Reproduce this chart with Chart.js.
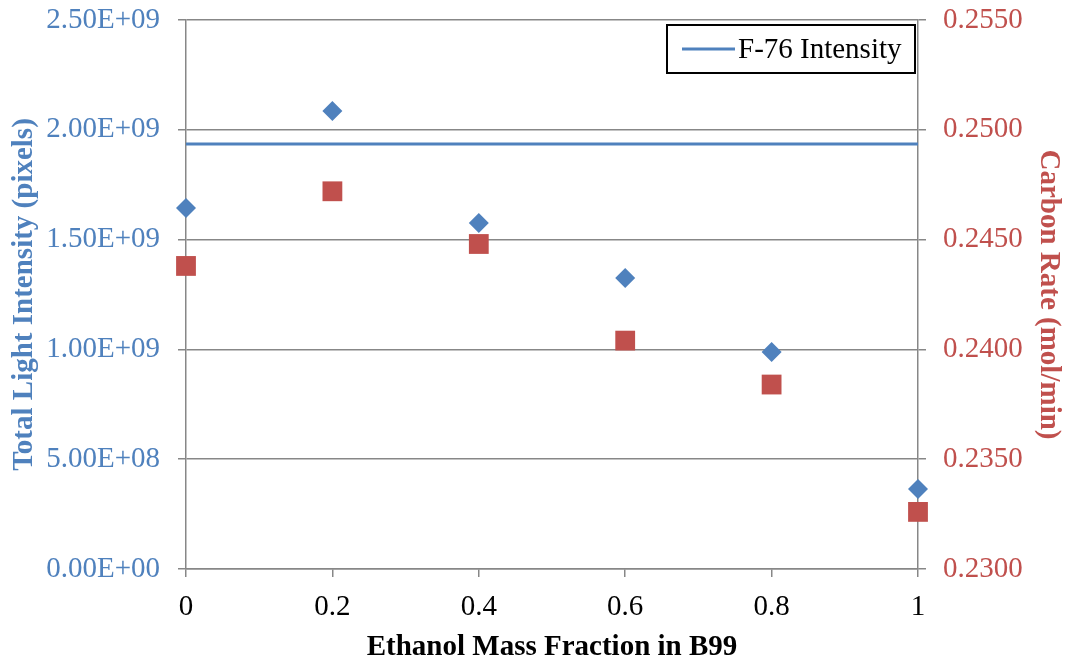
<!DOCTYPE html>
<html>
<head>
<meta charset="utf-8">
<script src="https://cdn.jsdelivr.net/npm/chart.js@4/dist/chart.umd.min.js"></script>
<style>
  html, body { margin: 0; padding: 0; background: #fff; }
  #wrap { width: 1068px; height: 661px; }
</style>
</head>
<body>
<div id="wrap"><canvas id="grafica" width="1068" height="661"></canvas></div>
<script>
// mass fraction of ethanol in the B99 blend
var fracciones = [0, 0.2, 0.4, 0.6, 0.8, 1];
// total light intensity (pixels)
var intensidad = [1.644e9, 2.086e9, 1.576e9, 1.325e9, 0.988e9, 0.364e9];
// carbon rate (mol/min)
var carbono = [0.2438, 0.2472, 0.2448, 0.2404, 0.2384, 0.2326];
// reference intensity for F-76
var intensidadF76 = 1.935e9;

var xTicks = [0, 0.2, 0.4, 0.6, 0.8, 1];
var azul = '#4F81BD';
var rojo = '#C0504D';
var gris = '#878787';
var fuente = '"Liberation Serif", "Times New Roman", serif';
var tam = 29;

function formatoExp(v) {
  var partes = v.toExponential(2).split('e');
  var exp = partes[1];
  var signo = exp.charAt(0);
  var num = exp.substring(1);
  if (num.length < 2) num = '0' + num;
  return partes[0] + 'E' + signo + num;
}

// legend box drawn inside the plot, top right
var leyendaCaja = {
  id: 'leyendaCaja',
  afterDatasetsDraw: function(chart) {
    var ctx = chart.ctx;
    var area = chart.chartArea;
    var ds = chart.data.datasets[2];
    var w = 248, h = 48;
    var x = area.right - 251, y = area.top + 5;
    ctx.save();
    ctx.fillStyle = '#fff';
    ctx.fillRect(x, y, w, h);
    ctx.strokeStyle = '#000';
    ctx.lineWidth = 2;
    ctx.strokeRect(x, y, w, h);
    ctx.strokeStyle = ds.borderColor;
    ctx.lineWidth = 3;
    ctx.beginPath();
    ctx.moveTo(x + 15, y + h / 2);
    ctx.lineTo(x + 68, y + h / 2);
    ctx.stroke();
    ctx.fillStyle = '#000';
    ctx.font = tam + 'px ' + fuente;
    ctx.textBaseline = 'middle';
    ctx.fillText(ds.label, x + 71, y + h / 2 + 1);
    ctx.restore();
  }
};

// fixed widths for the vertical axes, no extra room for the end labels
function ajusteVertical(ancho) {
  return function(s) {
    s.width = ancho;
    s.paddingTop = 0;
    s.paddingBottom = 0;
  };
}

var graficar = document.getElementById('grafica');
var grafico = new Chart(graficar, {
  type: 'scatter',
  data: {
    datasets: [{
      label: 'Total Light Intensity',
      data: fracciones.map(function(f, i) { return {x: f, y: intensidad[i]}; }),
      yAxisID: 'y',
      pointStyle: 'rectRot',
      pointRadius: 10,
      pointHoverRadius: 10,
      backgroundColor: azul,
      borderColor: azul,
      borderWidth: 0,
      clip: false,
      order: 1
    }, {
      label: 'Carbon Rate',
      data: fracciones.map(function(f, i) { return {x: f, y: carbono[i]}; }),
      yAxisID: 'y2',
      pointStyle: 'rect',
      pointRadius: 14,
      pointHoverRadius: 14,
      backgroundColor: rojo,
      borderColor: rojo,
      borderWidth: 0,
      clip: false,
      order: 2
    }, {
      type: 'line',
      label: 'F-76 Intensity',
      data: [{x: 0, y: intensidadF76}, {x: 1, y: intensidadF76}],
      yAxisID: 'y',
      borderColor: azul,
      borderWidth: 3,
      pointRadius: 0,
      fill: false,
      order: 3
    }]
  },
  options: {
    responsive: false,
    animation: false,
    layout: { padding: { top: 20, left: 0, right: 0, bottom: 0 } },
    plugins: {
      legend: { display: false },
      tooltip: { enabled: false }
    },
    scales: {
      x: {
        type: 'linear',
        min: 0,
        max: 1,
        afterBuildTicks: function(s) { s.ticks = xTicks.map(function(v) { return {value: v}; }); },
        afterFit: function(s) { s.height = 92; s.paddingLeft = 0; s.paddingRight = 0; },
        ticks: {
          color: '#000',
          font: { family: fuente, size: tam },
          padding: 13,
          callback: function(v) { return String(+v.toFixed(1)); }
        },
        grid: { drawOnChartArea: false, drawTicks: true, tickLength: 8, color: gris, lineWidth: 1.5 },
        border: { display: true, color: gris, width: 1.5 },
        title: {
          display: true,
          text: 'Ethanol Mass Fraction in B99',
          color: '#000',
          font: { family: fuente, size: tam, weight: 'bold' },
          padding: { top: 0, bottom: -4 }
        }
      },
      y: {
        type: 'linear',
        position: 'left',
        min: 0,
        max: 2.5e9,
        ticks: {
          stepSize: 5e8,
          color: azul,
          font: { family: fuente, size: tam },
          padding: 18,
          callback: function(v) { return formatoExp(v); }
        },
        afterFit: ajusteVertical(186),
        grid: { color: gris, lineWidth: 1.5, drawTicks: true, tickLength: 8 },
        border: { display: true, color: gris, width: 1.5 },
        title: {
          display: true,
          text: 'Total Light Intensity (pixels)',
          color: azul,
          font: { family: fuente, size: tam, weight: 'bold' },
          padding: { top: 7, bottom: 0 }
        }
      },
      y2: {
        type: 'linear',
        position: 'right',
        min: 0.23,
        max: 0.255,
        ticks: {
          stepSize: 0.005,
          color: rojo,
          font: { family: fuente, size: tam },
          padding: 17,
          callback: function(v) { return v.toFixed(4); }
        },
        afterFit: ajusteVertical(150),
        grid: { drawOnChartArea: false, color: gris, lineWidth: 1.5, drawTicks: true, tickLength: 8 },
        border: { display: true, color: gris, width: 1.5 },
        title: {
          display: true,
          text: 'Carbon Rate (mol/min)',
          color: rojo,
          font: { family: fuente, size: tam, weight: 'bold' },
          padding: { top: 2, bottom: 0 }
        }
      }
    }
  },
  plugins: [leyendaCaja]
});
</script>
</body>
</html>
